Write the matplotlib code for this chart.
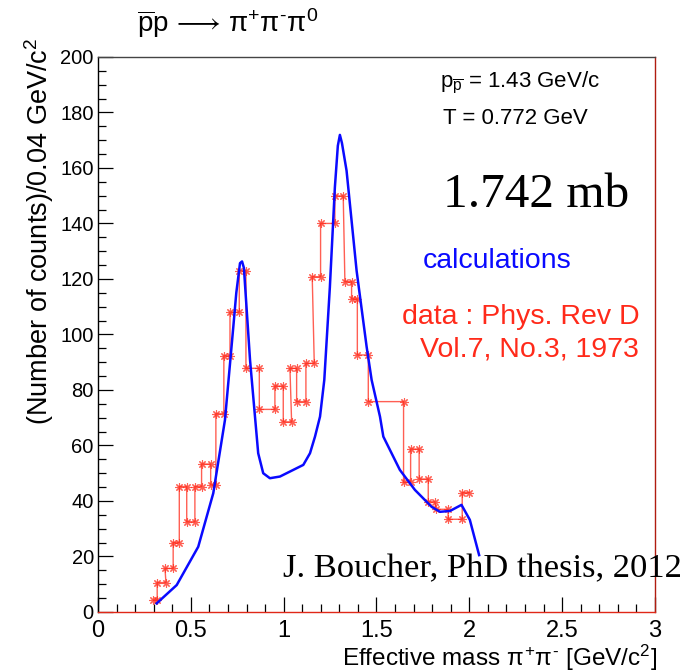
import numpy as np
import matplotlib
matplotlib.use("Agg")
import matplotlib.pyplot as plt
from matplotlib.ticker import MultipleLocator

plt.rcParams['font.family'] = ['Liberation Sans', 'DejaVu Sans']
plt.rcParams['mathtext.fontset'] = 'custom'
plt.rcParams['mathtext.rm'] = 'Liberation Sans'
plt.rcParams['mathtext.it'] = 'Liberation Sans'

# data (Phys. Rev D Vol.7, No.3, 1973): bin low edge, bin high edge, counts
data_lo = [0.298, 0.319, 0.361, 0.405, 0.438, 0.478, 0.522, 0.558, 0.607, 0.635,
           0.678, 0.711, 0.761, 0.797, 0.869, 0.953, 0.998, 1.034, 1.070, 1.120,
           1.154, 1.199, 1.276, 1.330, 1.366, 1.397, 1.456, 1.646, 1.684, 1.730,
           1.779, 1.820, 1.886, 1.962]
data_hi = [0.319, 0.366, 0.405, 0.438, 0.478, 0.522, 0.558, 0.607, 0.635, 0.678,
           0.711, 0.761, 0.797, 0.869, 0.953, 0.998, 1.043, 1.070, 1.120, 1.165,
           1.199, 1.276, 1.321, 1.366, 1.397, 1.456, 1.646, 1.684, 1.730, 1.779,
           1.815, 1.886, 1.962, 2.000]
data_counts = [4.3, 10.6, 15.7, 25.0, 45.2, 32.5, 45.2, 53.3, 45.8, 71.4,
               92.3, 108.0, 123.0, 87.8, 73.0, 81.4, 68.5, 87.8, 75.8, 89.6,
               120.8, 140.0, 149.9, 119.0, 112.8, 92.6, 75.8, 46.7, 58.7, 47.9,
               39.7, 37.0, 33.4, 43.0]

# calculations
calc_mass = [0.316, 0.424, 0.540, 0.621, 0.684, 0.729, 0.745, 0.765, 0.776, 0.786,
             0.819, 0.863, 0.890, 0.926, 0.980, 1.088, 1.106, 1.142, 1.169, 1.196,
             1.219, 1.249, 1.276, 1.292, 1.303, 1.314, 1.339, 1.393, 1.447, 1.474,
             1.519, 1.537, 1.626, 1.707, 1.797, 1.842, 1.896, 1.958, 2.003, 2.053]
calc_counts = [3.1, 9.7, 23.5, 42.8, 69.2, 102.8, 115.0, 125.7, 126.3, 124.0,
               90.8, 57.2, 50.0, 48.2, 48.8, 52.4, 53.0, 57.2, 63.2, 70.4,
               83.6, 117.0, 153.0, 168.0, 171.9, 169.0, 159.0, 123.0, 95.6, 83.6,
               70.4, 63.2, 51.2, 44.0, 37.9, 36.1, 36.4, 38.6, 33.2, 20.5]

fig = plt.figure(figsize=(6.91, 6.72), dpi=100)
ax = fig.add_axes([0.1418, 0.0893, 0.806, 0.826])

# red points: both bin edges, joined in order
px, py = [], []
for lo, hi, c in zip(data_lo, data_hi, data_counts):
    px += [lo, hi]
    py += [c, c]
ax.plot(px, py, color='#ff2a1a', lw=1.0, alpha=0.75, marker=(8, 2, 0),
        ms=6, mew=0.8, mec='#ff2a1a', zorder=2)

ax.plot(calc_mass, calc_counts, color='#0a0aff', lw=1.8, zorder=3)

ax.set_xlim(0, 3)
ax.set_ylim(0, 200)
ax.xaxis.set_major_locator(MultipleLocator(0.5))
ax.xaxis.set_minor_locator(MultipleLocator(0.1))
ax.yaxis.set_major_locator(MultipleLocator(20))
ax.yaxis.set_minor_locator(MultipleLocator(5))
ax.set_xticks([0, 0.5, 1, 1.5, 2, 2.5, 3])
ax.set_xticklabels(['0', '0.5', '1', '1.5', '2', '2.5', '3'])
ax.tick_params(axis='x', which='both', direction='in', top=False, pad=6, labelsize=17)
ax.tick_params(axis='y', which='both', direction='in', right=False, pad=3, labelsize=14.5)
ax.tick_params(which='major', length=11, width=0.9)
ax.tick_params(which='minor', length=5.5, width=0.9)

ax.spines['left'].set_color('black')
ax.spines['bottom'].set_color('#e02818')
ax.spines['right'].set_color('#b01c10')
ax.spines['top'].set_color('#444444')
for s in ax.spines.values():
    s.set_linewidth(1.0)

ax.set_ylabel(r'(Number of counts)/0.04 GeV/c$^{2}$', fontsize=19.5, loc='top')
ax.yaxis.set_label_coords(-0.076, 1.034)
ax.set_xlabel(r'Effective mass $\pi^{+}\pi^{\text{-}}$ [GeV/c$^{2}$]', fontsize=17.5, loc='right')
ax.xaxis.set_label_coords(1.004, -0.056)

fig.text(0.198, 0.966, r'$\overline{\rm p}{\rm p}\,\longrightarrow\,\pi^{+}\pi^{\text{-}}\pi^{0}$',
         fontsize=20, ha='left', va='center')

ax.text(0.614, 0.946, r'p$_{\overline{\rm p}}$ = 1.43 GeV/c', transform=ax.transAxes,
        fontsize=16, ha='left', va='baseline')
ax.text(0.619, 0.88, 'T = 0.772 GeV', transform=ax.transAxes,
        fontsize=16, ha='left', va='baseline')
ax.text(0.619, 0.73, '1.742 mb', transform=ax.transAxes, family=['Liberation Serif'],
        fontsize=35.5, ha='left', va='baseline')
ax.text(0.584, 0.62, 'calculations', transform=ax.transAxes, color='#0a0aff',
        fontsize=20.5, ha='left', va='baseline')
ax.text(0.972, 0.518, 'data : Phys. Rev D', transform=ax.transAxes, color='#ff2a1a',
        fontsize=20.5, ha='right', va='baseline')
ax.text(0.972, 0.46, 'Vol.7, No.3, 1973', transform=ax.transAxes, color='#ff2a1a',
        fontsize=20.5, ha='right', va='baseline')
ax.text(0.332, 0.062, 'J. Boucher, PhD thesis, 2012', transform=ax.transAxes,
        family=['Liberation Serif'], fontsize=24.8, ha='left', va='baseline',
        clip_on=False, zorder=5)

fig.savefig('out.png', dpi=100)
